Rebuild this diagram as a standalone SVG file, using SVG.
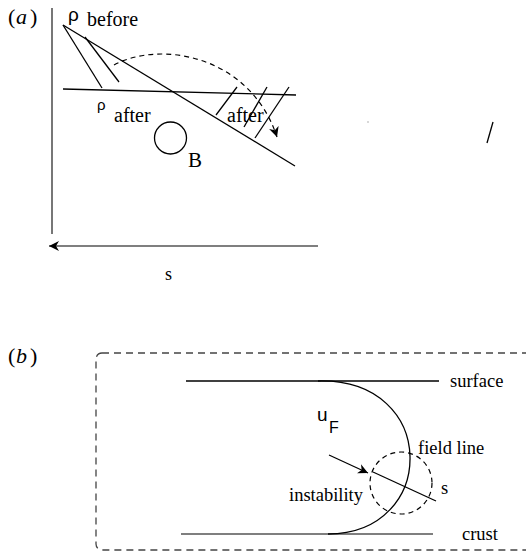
<svg xmlns="http://www.w3.org/2000/svg" width="526" height="553" viewBox="0 0 526 553">
<style>
.serif{font-family:"Liberation Serif","Times New Roman",serif;fill:#000}
.sans{font-family:"Liberation Sans",Arial,sans-serif;fill:#000}
.ln{stroke:#000;stroke-width:1.3;fill:none}
.gr{stroke:#555;stroke-width:1.6;fill:none}
.dash{stroke:#000;stroke-width:1.2;fill:none;stroke-dasharray:5 4}
</style>
<defs>
<marker id="ah" markerWidth="12" markerHeight="10" refX="10" refY="5" orient="auto" markerUnits="userSpaceOnUse">
<path d="M0,0 L10,5 L0,10 L3,5 Z" fill="#000"/>
</marker>
</defs>

<g id="panel-a">
  <text id="label-a" class="serif" font-size="22" x="8 16 30" y="24">(<tspan font-style="italic">a</tspan>)</text>
  <g id="axes">
    <line class="gr" x1="52" y1="8" x2="52" y2="234"/>
    <line class="gr" x1="318" y1="246" x2="49" y2="246" marker-end="url(#ah)"/>
    <text class="serif" font-size="18" x="165" y="280">s</text>
  </g>
  <g id="connectors">
    <line class="ln" x1="63" y1="25" x2="295" y2="166"/>
    <line class="ln" x1="63" y1="89" x2="296" y2="95"/>
    <line class="ln" x1="63" y1="25" x2="102" y2="88"/>
    <line class="ln" x1="85" y1="37" x2="119" y2="82"/>
    <line class="ln" x1="216" y1="115" x2="237" y2="87"/>
    <line class="ln" x1="244" y1="127" x2="267" y2="87"/>
    <line class="ln" x1="255" y1="138" x2="289" y2="87"/>
    <path class="dash" d="M114,65 C160,40 250,55 277,137" marker-end="url(#ah)"/>
    <line x1="487" y1="143" x2="493" y2="122" stroke="#000" stroke-width="1.3"/>
    <rect x="367.5" y="121.5" width="1" height="1" fill="#666"/>
  </g>
  <g id="rho-before">
    <text class="sans" font-size="19" x="68" y="21">ρ</text>
    <text class="serif" font-size="20" x="87" y="26">before</text>
  </g>
  <g id="rho-after">
    <text class="sans" font-size="15" x="97" y="110">ρ</text>
    <text class="serif" font-size="20" x="114" y="122">after</text>
  </g>
  <g id="after-right">
    <text class="serif" font-size="20" x="227" y="122">after</text>
  </g>
  <g id="node-B">
    <circle class="ln" cx="170.5" cy="138" r="16"/>
    <text class="serif" font-size="21" x="188" y="167">B</text>
  </g>
</g>

<g id="panel-b">
  <text id="label-b" class="serif" font-size="22" x="8 16 30" y="363">(<tspan font-style="italic">b</tspan>)</text>
  <g id="frame">
    <rect x="96" y="353" width="460" height="197" rx="6" fill="none" stroke="#444" stroke-width="1.3" stroke-dasharray="7 5"/>
  </g>
  <g id="surface">
    <line class="ln" x1="186" y1="381" x2="439" y2="381"/>
    <text class="serif" font-size="18.5" x="450" y="387">surface</text>
  </g>
  <g id="crust">
    <line class="gr" x1="181" y1="534" x2="433" y2="534"/>
    <text class="serif" font-size="18.5" x="462" y="540">crust</text>
  </g>
  <g id="field-line">
    <path class="ln" d="M318,381 C440,378 438,534 328,534"/>
    <text class="serif" font-size="18.5" x="418" y="454">field line</text>
  </g>
  <g id="uF">
    <text class="sans" font-size="19" x="317" y="421">u</text>
    <text class="sans" font-size="16" x="329" y="433">F</text>
  </g>
  <g id="instability">
    <circle class="dash" cx="401" cy="483" r="31"/>
    <text class="serif" font-size="18.5" x="289" y="501">instability</text>
  </g>
  <g id="b-connectors">
    <line class="ln" x1="329" y1="455" x2="368" y2="473" marker-end="url(#ah)"/>
    <line class="ln" x1="373" y1="472" x2="436" y2="501"/>
    <text class="serif" font-size="18.5" x="441" y="494">s</text>
  </g>
</g>
</svg>
